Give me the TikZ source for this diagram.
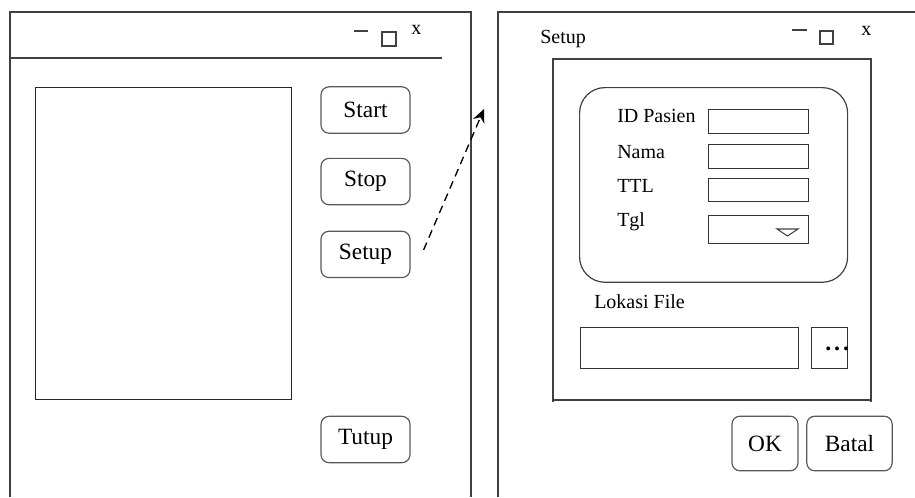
\documentclass[tikz,border=0pt]{standalone}
\usepackage{fontspec}
\setmainfont{Liberation Serif}
\usetikzlibrary{positioning,arrows.meta}

\begin{document}
\begin{tikzpicture}[x=0.75pt,y=-0.75pt,node distance=18pt,
    frame/.style={draw=black!75,line width=0.9pt},
    btn/.style={draw=black!65,line width=0.9pt,rounded corners=6pt,inner sep=0pt,
      font=\fontsize{17.5}{20}\selectfont,minimum width=66.75pt,minimum height=34.75pt},
    field/.style={draw=black!80,line width=0.8pt,inner sep=0pt,anchor=north west,
      minimum width=75pt,minimum height=18pt},
    lbl/.style={font=\fontsize{15}{18}\selectfont,anchor=west,inner sep=0pt},
    link/.style={line width=1pt,dash pattern=on 6pt off 4pt,
      -{Stealth[length=10pt,width=9pt]}}]
  \useasboundingbox (0,0) rectangle (915,497);

  % main window
  \draw[frame] (10,497) -- (10,12) -- (471,12) -- (471,497);
  \draw[frame] (10,58) -- (442,58);
  \draw[frame] (354,31) -- (368,31);
  \draw[frame] (382,32) rectangle (396,46);
  \node[lbl] (closemain) at (411,30) {x};
  \node[draw=black!85,line width=0.9pt,inner sep=0pt,anchor=north west,
    minimum width=192pt,minimum height=234pt] (canvas) at (35,87) {};

  \node[btn] (start) at (365.5,110) {Start};
  \node[btn,below=of start] (stop) {Stop};
  \node[btn,below=19pt of stop] (setup) {Setup};
  \node[btn] (tutup) at (365.5,439.5) {Tutup};

  % setup window
  \draw[frame] (498,497) -- (498,12) -- (915,12);
  \node[lbl] (title) at (540,39) {Setup};
  \draw[frame] (792,30) -- (807,30);
  \draw[frame] (820,31) rectangle (833,44);
  \node[lbl] (closesetup) at (861,31) {x};
  \draw[frame] (553,402) -- (553,59) -- (871,59) -- (871,402);
  \draw[frame] (553,400) -- (871,400);

  \node[draw=black!75,line width=0.9pt,rounded corners=19pt,inner sep=0pt,
    anchor=north west,minimum width=201pt,minimum height=146pt] (form) at (579,87) {};
  \node[lbl] (idlbl) at (617,116) {ID Pasien};
  \node[lbl] (namalbl) at (617,152) {Nama};
  \node[lbl] (ttllbl) at (617,186) {TTL};
  \node[lbl] (tgllbl) at (617,222) {Tgl};
  \node[field] (idfield) at (708,109) {};
  \node[field] (namafield) at (708,144) {};
  \node[field,minimum height=17.5pt] (ttlfield) at (708,178) {};
  \node[field,minimum height=21pt] (tglfield) at (708,215) {};
  \draw[black!75,line width=0.8pt] (777,229) -- (798,229) -- (787.5,236) -- cycle;

  \node[lbl] (lokasilbl) at (594,302) {Lokasi File};
  \node[field,minimum width=163.5pt,minimum height=31pt] (filefield) at (580,327) {};
  \node[field,minimum width=27pt,minimum height=31pt] (browse) at (811,327) {};
  \node[lbl,font=\bfseries\fontsize{18}{20}\selectfont] (dots) at (825,349)
    {.\hspace{2.2pt}.\hspace{2.2pt}.};

  \node[btn,minimum width=49.5pt,minimum height=41pt] (ok) at (765,443.5) {OK};
  \node[btn,minimum width=64pt,minimum height=41pt] (batal) at (849.5,443.5) {Batal};

  \coordinate (arrtip) at (484,109);
  \draw[link] ([shift={(13,-4.5)}]setup.east) -- (arrtip);
\end{tikzpicture}
\end{document}
